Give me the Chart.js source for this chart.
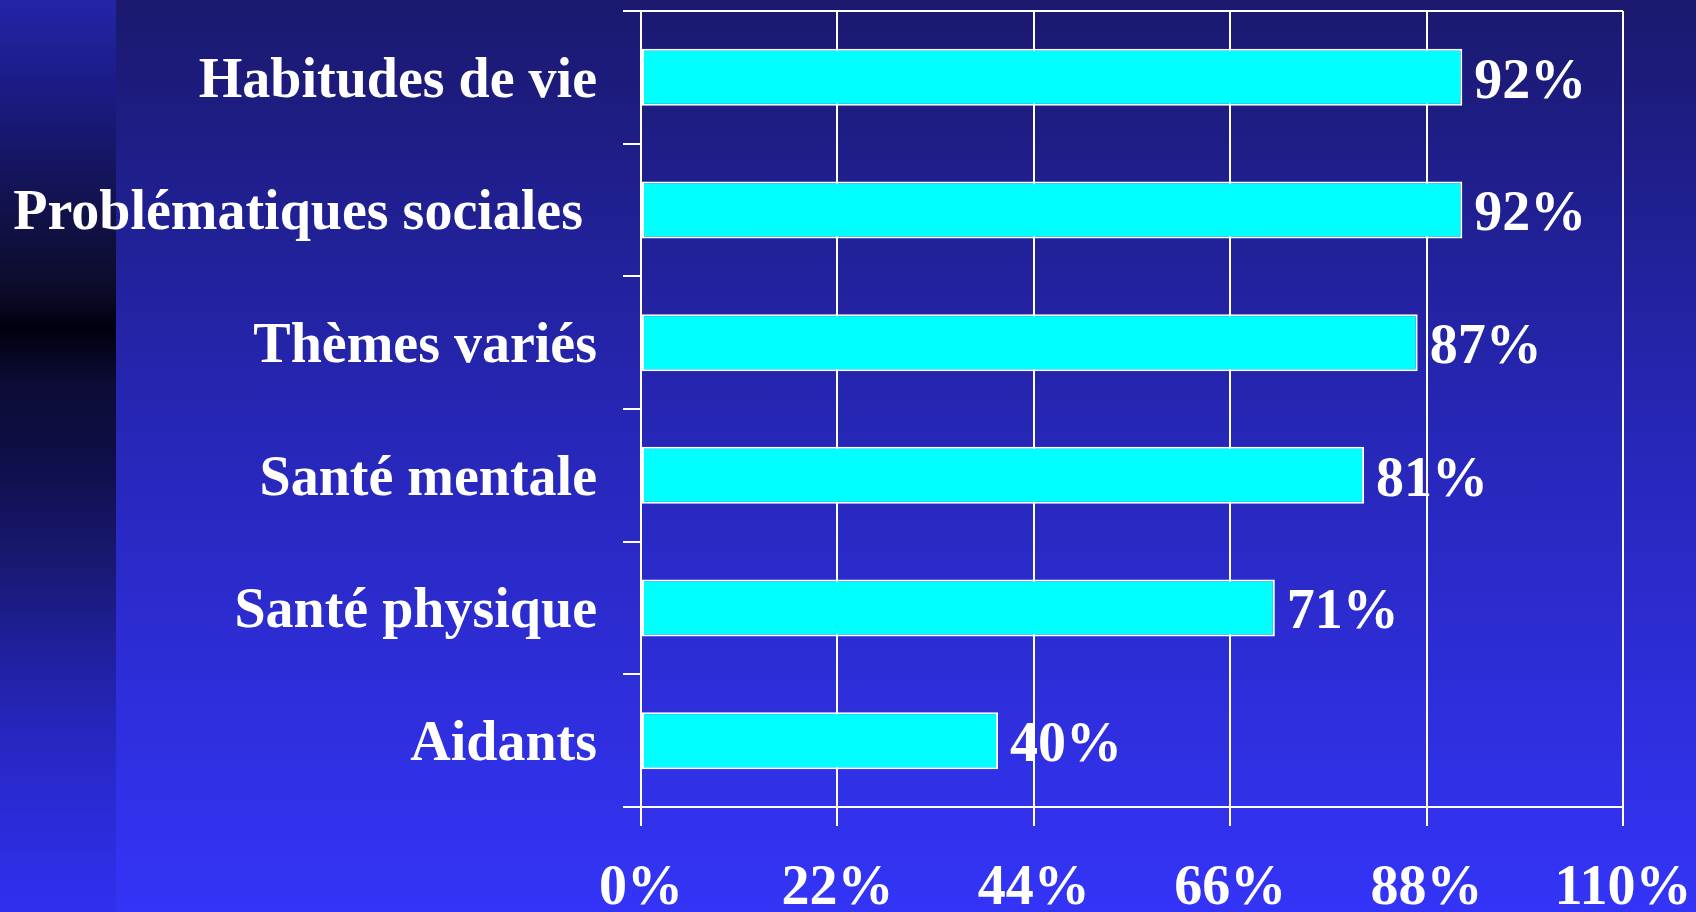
<!DOCTYPE html>
<html>
<head>
<meta charset="utf-8">
<script src="https://cdn.jsdelivr.net/npm/chart.js@4"></script>
<style>
  html, body { margin: 0; padding: 0; }
  body {
    width: 1696px; height: 912px; overflow: hidden; position: relative;
    background: linear-gradient(to bottom, #1a196e 0%, #2626b4 45%, #3434f8 100%);
  }
  /* bande sombre à gauche */
  #strip {
    position: absolute; left: 0; top: 0; width: 116px; height: 912px;
    background: linear-gradient(to bottom,
      #2424a8 0%, #1a1a80 11%, #121250 22%, #0c0c28 32%, #000010 36%,
      #0c0c35 42%, #0e0e48 50%, #181870 61%, #2020a0 72%, #2828c8 83%, #3030f0 100%);
  }
  #wrap { position: absolute; left: 0; top: 0; }
</style>
</head>
<body>
<div id="strip"></div>
<div id="wrap"><canvas id="chart" width="1696" height="912"></canvas></div>
<script>
const categories = ['Habitudes de vie', 'Problématiques sociales ', 'Thèmes variés', 'Santé mentale', 'Santé physique', 'Aidants'];
const values = [92, 92, 87, 81, 71, 40];
const tickValues = [0, 22, 44, 66, 88, 110];

const FONT = { family: "'Liberation Serif', 'Times New Roman', serif", size: 56, weight: 'bold' };

// étiquettes de valeur à droite des barres
const valueLabels = {
  id: 'valueLabels',
  afterDatasetsDraw(chart) {
    const ctx = chart.ctx;
    const meta = chart.getDatasetMeta(0);
    ctx.save();
    ctx.fillStyle = '#ffffff';
    ctx.font = `${FONT.weight} ${FONT.size}px ${FONT.family}`;
    ctx.textAlign = 'left';
    ctx.textBaseline = 'middle';
    meta.data.forEach((bar, i) => {
      ctx.fillText(values[i] + '%', bar.x + 12, bar.y + 6);
    });
    ctx.restore();
  }
};

new Chart(document.getElementById('chart'), {
  type: 'bar',
  data: {
    labels: categories,
    datasets: [{
      data: values,
      backgroundColor: '#00ffff',
      borderColor: '#ffffff',
      borderWidth: 2,
      borderSkipped: false,
      barPercentage: 0.43,
      categoryPercentage: 1
    }]
  },
  options: {
    indexAxis: 'y',
    responsive: false,
    animation: false,
    layout: { padding: { top: 11, right: 73, bottom: 0, left: 0 } },
    plugins: { legend: { display: false }, tooltip: { enabled: false } },
    scales: {
      x: {
        min: 0, max: 110,
        afterBuildTicks: (scale) => { scale.ticks = tickValues.map(v => ({ value: v })); },
        afterFit: (scale) => { scale.height = 105; scale.paddingLeft = 0; scale.paddingRight = 0; },
        ticks: { color: '#ffffff', font: FONT, padding: 30, callback: v => v + '%', maxRotation: 0 },
        grid: { color: '#ffffff', lineWidth: 2, tickLength: 19 },
        border: { color: '#ffffff', width: 2 }
      },
      y: {
        afterFit: (scale) => { scale.width = 641; scale.paddingTop = 0; scale.paddingBottom = 0; },
        ticks: { color: '#ffffff', font: FONT, padding: 26, labelOffset: 5 },
        grid: {
          color: ctx => ctx.index === 0 ? '#ffffff' : 'rgba(0,0,0,0)',
          tickColor: '#ffffff',
          lineWidth: 2,
          tickLength: 18
        },
        border: { color: '#ffffff', width: 2 }
      }
    }
  },
  plugins: [valueLabels]
});
</script>
</body>
</html>
